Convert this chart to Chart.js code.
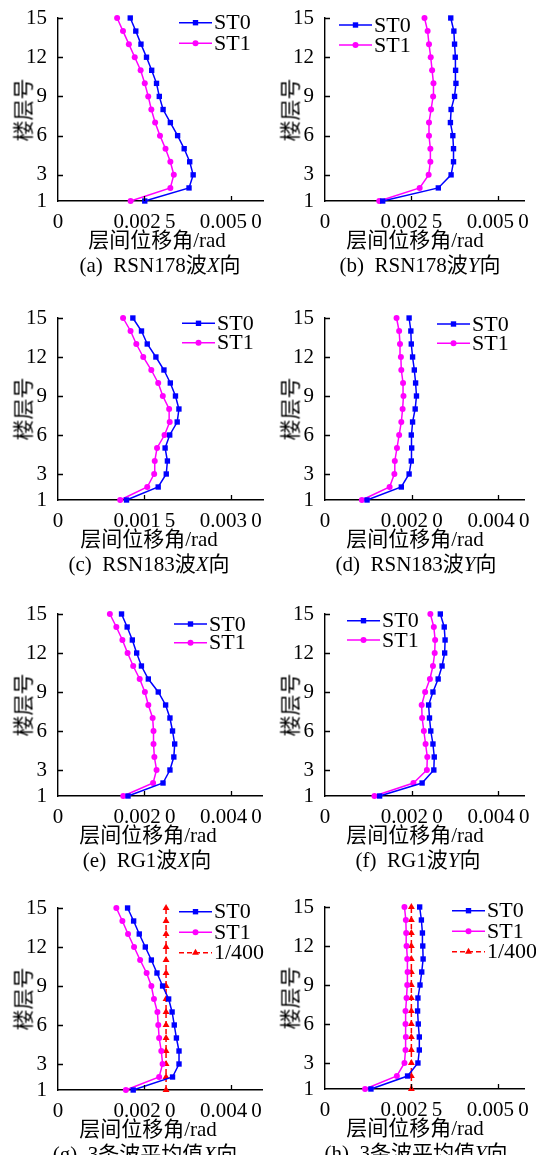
<!DOCTYPE html>
<html lang="zh">
<head>
<meta charset="UTF-8">
<title>层间位移角</title>
<script src="https://cdn.jsdelivr.net/npm/chart.js"></script>
<style>
  body {
    margin: 0;
    background: #fff;
    width: 536px;
    height: 1155px;
    position: relative;
    overflow: hidden;
    font-family: 'Liberation Serif', 'Noto Sans CJK SC', serif;
    color: #000;
  }
  .box { position: absolute; }
  .lbl {
    position: absolute;
    font-size: 21px;
    line-height: 1;
    white-space: nowrap;
    transform: translate(-50%, -50%);
  }
  .ytitle {
    font-family: 'Noto Sans CJK SC', sans-serif;
    transform: translate(-50%, -50%) rotate(-90deg);
  }
</style>
</head>
<body>
<script>
  // floors (y axis)
  const floors = [1, 2, 3, 4, 5, 6, 7, 8, 9, 10, 11, 12, 13, 14, 15];
  const yTicks = [1, 3, 6, 9, 12, 15];

  // x tick values
  const ticks25 = [0, 0.0025, 0.005];
  const ticks15 = [0, 0.0015, 0.003];
  const ticks20 = [0, 0.002, 0.004];

  // (a) RSN178 X
  const st0A = [0.00251, 0.00379, 0.00391, 0.00381, 0.00365, 0.00346, 0.00325, 0.00304, 0.00293, 0.00285, 0.00271, 0.00256, 0.00240, 0.00225, 0.00209];
  const st1A = [0.00210, 0.00325, 0.00335, 0.00325, 0.00311, 0.00295, 0.00281, 0.00270, 0.00261, 0.00251, 0.00239, 0.00222, 0.00205, 0.00188, 0.00171];
  // (b) RSN178 Y
  const st0B = [0.00167, 0.00328, 0.00365, 0.00372, 0.00372, 0.00370, 0.00363, 0.00365, 0.00375, 0.00379, 0.00378, 0.00377, 0.00375, 0.00373, 0.00364];
  const st1B = [0.00157, 0.00274, 0.00300, 0.00305, 0.00305, 0.00301, 0.00301, 0.00307, 0.00313, 0.00314, 0.00310, 0.00306, 0.00301, 0.00297, 0.00288];
  // (c) RSN183 X
  const st0C = [0.00119, 0.00174, 0.00188, 0.00190, 0.00186, 0.00194, 0.00207, 0.00210, 0.00204, 0.00195, 0.00184, 0.00170, 0.00155, 0.00145, 0.00130];
  const st1C = [0.00108, 0.00155, 0.00167, 0.00168, 0.00172, 0.00185, 0.00194, 0.00193, 0.00182, 0.00174, 0.00162, 0.00148, 0.00136, 0.00126, 0.00113];
  // (d) RSN183 Y
  const st0D = [0.00097, 0.00176, 0.00194, 0.00199, 0.00200, 0.00199, 0.00202, 0.00208, 0.00211, 0.00209, 0.00206, 0.00202, 0.00199, 0.00198, 0.00194];
  const st1D = [0.00085, 0.00149, 0.00160, 0.00161, 0.00166, 0.00171, 0.00176, 0.00179, 0.00181, 0.00180, 0.00176, 0.00175, 0.00173, 0.00171, 0.00165];
  // (e) RG1 X
  const st0E = [0.00162, 0.00243, 0.00259, 0.00268, 0.00270, 0.00265, 0.00259, 0.00249, 0.00232, 0.00209, 0.00193, 0.00182, 0.00172, 0.00160, 0.00147];
  const st1E = [0.00151, 0.00220, 0.00228, 0.00223, 0.00221, 0.00221, 0.00219, 0.00209, 0.00201, 0.00189, 0.00174, 0.00161, 0.00149, 0.00135, 0.00120];
  // (f) RG1 Y
  const st0F = [0.00126, 0.00224, 0.00251, 0.00252, 0.00249, 0.00244, 0.00241, 0.00239, 0.00249, 0.00261, 0.00270, 0.00276, 0.00277, 0.00275, 0.00266];
  const st1F = [0.00114, 0.00204, 0.00235, 0.00236, 0.00232, 0.00228, 0.00224, 0.00223, 0.00231, 0.00242, 0.00249, 0.00253, 0.00254, 0.00251, 0.00243];
  // (g) mean X
  const st0G = [0.00174, 0.00265, 0.00280, 0.00280, 0.00274, 0.00269, 0.00264, 0.00256, 0.00242, 0.00229, 0.00216, 0.00202, 0.00188, 0.00175, 0.00161];
  const st1G = [0.00157, 0.00234, 0.00242, 0.00239, 0.00234, 0.00232, 0.00230, 0.00222, 0.00216, 0.00205, 0.00190, 0.00176, 0.00162, 0.00149, 0.00135];
  // (h) mean Y
  const st0H = [0.00133, 0.00239, 0.00269, 0.00273, 0.00273, 0.00270, 0.00268, 0.00269, 0.00275, 0.00280, 0.00284, 0.00283, 0.00282, 0.00279, 0.00274];
  const st1H = [0.00116, 0.00208, 0.00230, 0.00233, 0.00234, 0.00233, 0.00233, 0.00236, 0.00238, 0.00239, 0.00238, 0.00236, 0.00235, 0.00234, 0.00230];
  // 1/400 limit
  const limit400 = [0.0025, 0.0025, 0.0025, 0.0025, 0.0025, 0.0025, 0.0025, 0.0025, 0.0025, 0.0025, 0.0025, 0.0025, 0.0025, 0.0025, 0.0025];

  const PADL = 50, PADT = 14, PADR = 14, PADB = 28;

  const panels = [
    { L: 58, T: 18, R: 263, B: 201, xMax: 0.00593, xt: ticks25, s0: st0A, s1: st1A, lim: null, lg: [121, 4.7, 20.6], cap: '(a)&nbsp; RSN178波<i>X</i>向', capX: 160, ttlX: 157 },
    { L: 325, T: 18, R: 524, B: 201, xMax: 0.00576, xt: ticks25, s0: st0B, s1: st1B, lim: null, lg: [14, 7, 20], cap: '(b)&nbsp; RSN178波<i>Y</i>向', capX: 420, ttlX: 415 },
    { L: 58, T: 318, R: 263, B: 500, xMax: 0.00356, xt: ticks15, s0: st0C, s1: st1C, lim: null, lg: [124, 5.3, 19.4], cap: '(c)&nbsp; RSN183波<i>X</i>向', capX: 149, ttlX: 149 },
    { L: 325, T: 318, R: 524, B: 500, xMax: 0.00459, xt: ticks20, s0: st0D, s1: st1D, lim: null, lg: [112, 6, 19.3], cap: '(d)&nbsp; RSN183波<i>Y</i>向', capX: 416, ttlX: 415 },
    { L: 58, T: 614, R: 262, B: 796, xMax: 0.00472, xt: ticks20, s0: st0E, s1: st1E, lim: null, lg: [116, 10, 18.7], cap: '(e)&nbsp; RG1波<i>X</i>向', capX: 147, ttlX: 148 },
    { L: 325, T: 614, R: 524, B: 796, xMax: 0.00459, xt: ticks20, s0: st0F, s1: st1F, lim: null, lg: [22, 6.7, 19.3], cap: '(f)&nbsp; RG1波<i>Y</i>向', capX: 418, ttlX: 415 },
    { L: 58, T: 908, R: 262, B: 1090, xMax: 0.00472, xt: ticks20, s0: st0G, s1: st1G, lim: limit400, lg: [121, 3.7, 20.5], cap: '(g)&nbsp; 3条波平均值<i>X</i>向', capX: 145, ttlX: 148 },
    { L: 325, T: 907, R: 524, B: 1089, xMax: 0.00576, xt: ticks25, s0: st0H, s1: st1H, lim: limit400, lg: [127, 3.7, 20.5], cap: '(h)&nbsp; 3条波平均值<i>Y</i>向', capX: 416, ttlX: 415 }
  ];

  function fmt(v) {
    if (v === 0) return '0';
    const s = v.toFixed(4);
    return s.slice(0, 5) + '\u2009' + s.slice(5);
  }

  function marker(ctx, style, r, x, y) {
    ctx.beginPath();
    if (style === 'rect') {
      const h = r * Math.SQRT1_2;
      ctx.rect(x - h, y - h, 2 * h, 2 * h);
    } else if (style === 'triangle') {
      ctx.moveTo(x, y - r);
      ctx.lineTo(x + r * 0.866, y + r * 0.5);
      ctx.lineTo(x - r * 0.866, y + r * 0.5);
      ctx.closePath();
    } else {
      ctx.arc(x, y, r, 0, Math.PI * 2);
    }
    ctx.fill();
  }

  // inside tick marks + legend drawn in the plot area
  const decor = {
    id: 'decor',
    afterDraw(chart, args, opts) {
      const { ctx, chartArea: a, scales } = chart;
      ctx.save();
      ctx.strokeStyle = '#000';
      ctx.lineWidth = 1.3;
      ctx.beginPath();
      scales.x.ticks.forEach(t => {
        if (t.value === 0) return;
        const px = Math.round(scales.x.getPixelForValue(t.value)) + 0.5;
        ctx.moveTo(px, a.bottom);
        ctx.lineTo(px, a.bottom - 5);
      });
      scales.y.ticks.forEach(t => {
        if (t.value === 1) return;
        const py = Math.round(scales.y.getPixelForValue(t.value)) + 0.5;
        ctx.moveTo(a.left, py);
        ctx.lineTo(a.left + 5, py);
      });
      ctx.stroke();

      const [lx, ly, gap] = opts.pos;
      chart.data.datasets.forEach((d, i) => {
        const x0 = a.left + lx, y0 = a.top + ly + i * gap;
        ctx.strokeStyle = d.borderColor;
        ctx.fillStyle = d.borderColor;
        ctx.lineWidth = 1.5;
        ctx.setLineDash(d.borderDash || []);
        ctx.beginPath();
        ctx.moveTo(x0, y0);
        ctx.lineTo(x0 + 33, y0);
        ctx.stroke();
        ctx.setLineDash([]);
        marker(ctx, d.pointStyle, d.pointRadius, x0 + 16.5, y0);
        ctx.fillStyle = '#000';
        ctx.font = '22px "Liberation Serif"';
        ctx.textBaseline = 'middle';
        ctx.textAlign = 'left';
        ctx.fillText(d.label, x0 + 35, y0 + 1);
      });
      ctx.restore();
    }
  };

  function addLabel(html, x, y, cls) {
    const el = document.createElement('div');
    el.className = 'lbl' + (cls ? ' ' + cls : '');
    el.innerHTML = html;
    el.style.left = x + 'px';
    el.style.top = y + 'px';
    document.body.appendChild(el);
  }

  const tickFont = { family: 'Liberation Serif', size: 21 };

  panels.forEach(p => {
    const box = document.createElement('div');
    box.className = 'box';
    const w = p.R - p.L + PADL + PADR;
    const h = p.B - p.T + PADT + PADB;
    box.style.left = (p.L - PADL) + 'px';
    box.style.top = (p.T - PADT) + 'px';
    const cv = document.createElement('canvas');
    cv.width = w;
    cv.height = h;
    box.appendChild(cv);
    document.body.appendChild(box);

    const ds = [
      { label: 'ST0', data: floors.map((f, i) => ({ x: p.s0[i], y: f })), borderColor: '#0000ff', backgroundColor: '#0000ff',
        pointStyle: 'rect', pointRadius: 3.8, pointBorderWidth: 0, borderWidth: 1.5, showLine: true, clip: false },
      { label: 'ST1', data: floors.map((f, i) => ({ x: p.s1[i], y: f })), borderColor: '#ff00ff', backgroundColor: '#ff00ff',
        pointStyle: 'circle', pointRadius: 3, pointBorderWidth: 0, borderWidth: 1.5, showLine: true, clip: false }
    ];
    if (p.lim) {
      ds.push({ label: '1/400', data: floors.map((f, i) => ({ x: p.lim[i], y: f })), borderColor: '#ff0000', backgroundColor: '#ff0000',
        pointStyle: 'triangle', pointRadius: 4, pointBorderWidth: 0, borderWidth: 1.5, borderDash: [5, 3], showLine: true, clip: false });
    }

    new Chart(cv, {
      type: 'scatter',
      data: { datasets: ds },
      plugins: [decor],
      options: {
        responsive: false,
        animation: false,
        layout: { padding: { left: 0, top: PADT, right: PADR, bottom: 0 } },
        plugins: { legend: { display: false }, tooltip: { enabled: false }, decor: { pos: p.lg } },
        scales: {
          x: {
            type: 'linear', min: 0, max: p.xMax,
            afterBuildTicks: s => { s.ticks = p.xt.map(v => ({ value: v })); },
            afterFit: s => { s.height = PADB; s.paddingLeft = 0; s.paddingRight = 0; },
            ticks: { callback: v => fmt(v), font: tickFont, color: '#000', maxRotation: 0, autoSkip: false, padding: 1 },
            grid: { display: false },
            border: { color: '#000', width: 1.4 }
          },
          y: {
            type: 'linear', min: 1, max: 15,
            afterBuildTicks: s => { s.ticks = yTicks.map(v => ({ value: v })); },
            afterFit: s => { s.width = PADL; s.paddingTop = 0; s.paddingBottom = 0; },
            ticks: { callback: v => String(v), font: tickFont, color: '#000', autoSkip: false, padding: 3 },
            grid: { display: false },
            border: { color: '#000', width: 1.4 }
          }
        }
      }
    });

    addLabel('楼层号', p.L - 36, (p.T + p.B) / 2, 'ytitle');
    addLabel('层间位移角/rad', p.ttlX, p.B + 39);
    addLabel(p.cap, p.capX, p.B + 64);
  });
</script>
</body>
</html>
